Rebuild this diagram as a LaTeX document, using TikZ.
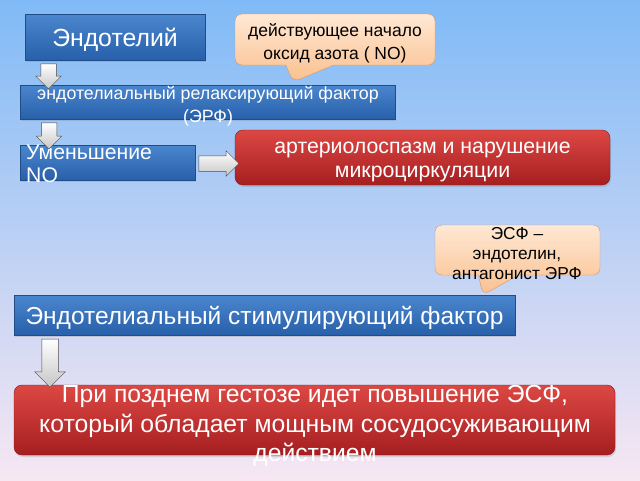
\documentclass[tikz,border=0pt]{standalone}
\usepackage{fontspec}
\setmainfont{Liberation Sans}
\usetikzlibrary{positioning, shapes.arrows, shapes.callouts, shadows}

\definecolor{bgtop}{RGB}{128,186,246}
\definecolor{bgmid}{RGB}{180,210,242}
\definecolor{bgbot}{RGB}{247,231,243}
\definecolor{bluetop}{RGB}{74,134,206}
\definecolor{bluebot}{RGB}{40,96,170}
\definecolor{redtop}{RGB}{220,72,68}
\definecolor{redbot}{RGB}{166,30,32}
\definecolor{peachtop}{RGB}{255,232,212}
\definecolor{peachbot}{RGB}{250,192,142}

\begin{document}
\begin{tikzpicture}[x=1pt, y=-1pt]
    \tikzstyle{bluebox} = [inner sep=2pt, top color=bluetop, bottom color=bluebot, draw=bluebot!80!black, line width=0.4pt, text=white, align=center, drop shadow={opacity=0.25, shadow xshift=1pt, shadow yshift=-2pt}]
    \tikzstyle{redbox} = [inner sep=2pt, rounded corners=8pt, top color=redtop, bottom color=redbot, draw=redbot!80!black, line width=0.4pt, text=white, align=center, drop shadow={opacity=0.25, shadow xshift=1pt, shadow yshift=-2pt}]
    \tikzstyle{note} = [rectangle callout, rounded corners=7pt, inner sep=2pt, top color=peachtop, bottom color=peachbot, draw=peachbot!80!black, line width=0.4pt, align=center, callout pointer width=48pt]
    \tikzstyle{wtext} = [inner sep=0, text=white, align=center]
    \tikzstyle{garrow} = [single arrow, single arrow head extend=5pt, inner xsep=0, inner ysep=7.5pt, top color=white, bottom color=gray!45, draw=gray!60!black, line width=0.5pt]

    \shade[top color=bgtop, middle color=bgmid, bottom color=bgbot] (0,0) rectangle (640,480);
    \useasboundingbox (0,0) rectangle (640,480);

    % top chain
    \node [bluebox, minimum width=180, minimum height=46, text depth=0pt, font=\fontsize{24.8}{28}\selectfont] at (115,37) (endo) {Эндотелий};
    \node [note, minimum width=200, minimum height=51, callout absolute pointer={(293,82)}] at (335,39.5) (nonote) {};
    \node [inner sep=0, align=center, font=\fontsize{17.5}{23}\selectfont] at (335,43) (nonotetext) {действующее начало\\оксид азота ( NO)};
    \node [bluebox, minimum width=375, minimum height=34] at (207.5,102) (erf) {};
    \node [wtext, font=\fontsize{17.8}{23}\selectfont] at (208,106) (erftext) {эндотелиальный релаксирующий фактор\\(ЭРФ)};
    \node [bluebox, minimum width=175, minimum height=35] at (107.5,162.5) (umen) {};
    \node [wtext, align=left, anchor=west, font=\fontsize{21.2}{23}\selectfont] at (26,164) (umentext) {Уменьшение\\NO};
    \node [redbox, minimum width=375, minimum height=55] at (422.5,157.5) (arter) {};
    \node [wtext, font=\fontsize{21.3}{23.5}\selectfont] at (422.5,162) (artertext) {артериолоспазм и нарушение\\микроциркуляции};

    \node [garrow, rotate=-90, minimum height=25] at (48.5,72.5) (a1) {};
    \node [garrow, rotate=-90, minimum height=26] at (49,132) (a2) {};
    \node [garrow, minimum height=40] at (215,163.5) (a3) {};

    % bottom chain
    \node [note, minimum width=165, minimum height=50, callout pointer width=40pt, callout absolute pointer={(483,295)}] at (517.5,250) (esfnote) {};
    \node [inner sep=0, align=center, font=\fontsize{17.3}{20}\selectfont] at (517,254) (esfnotetext) {ЭСФ –\\эндотелин,\\антагонист ЭРФ};
    \node [bluebox, minimum width=501, minimum height=40, text depth=0pt, font=\fontsize{24.5}{28}\selectfont] at (264.5,315) (esf) {Эндотелиальный стимулирующий фактор};
    \node [redbox, minimum width=601, minimum height=70] at (314.5,420) (late) {};
    \node [wtext, font=\fontsize{24.7}{29.5}\selectfont] at (315,426) (latetext) {При позднем гестозе идет повышение ЭСФ,\\который обладает мощным сосудосуживающим\\действием};

    \node [garrow, rotate=-90, minimum height=48, inner ysep=8pt, single arrow head extend=7pt] at (50,359) (a4) {};
\end{tikzpicture}
\end{document}
